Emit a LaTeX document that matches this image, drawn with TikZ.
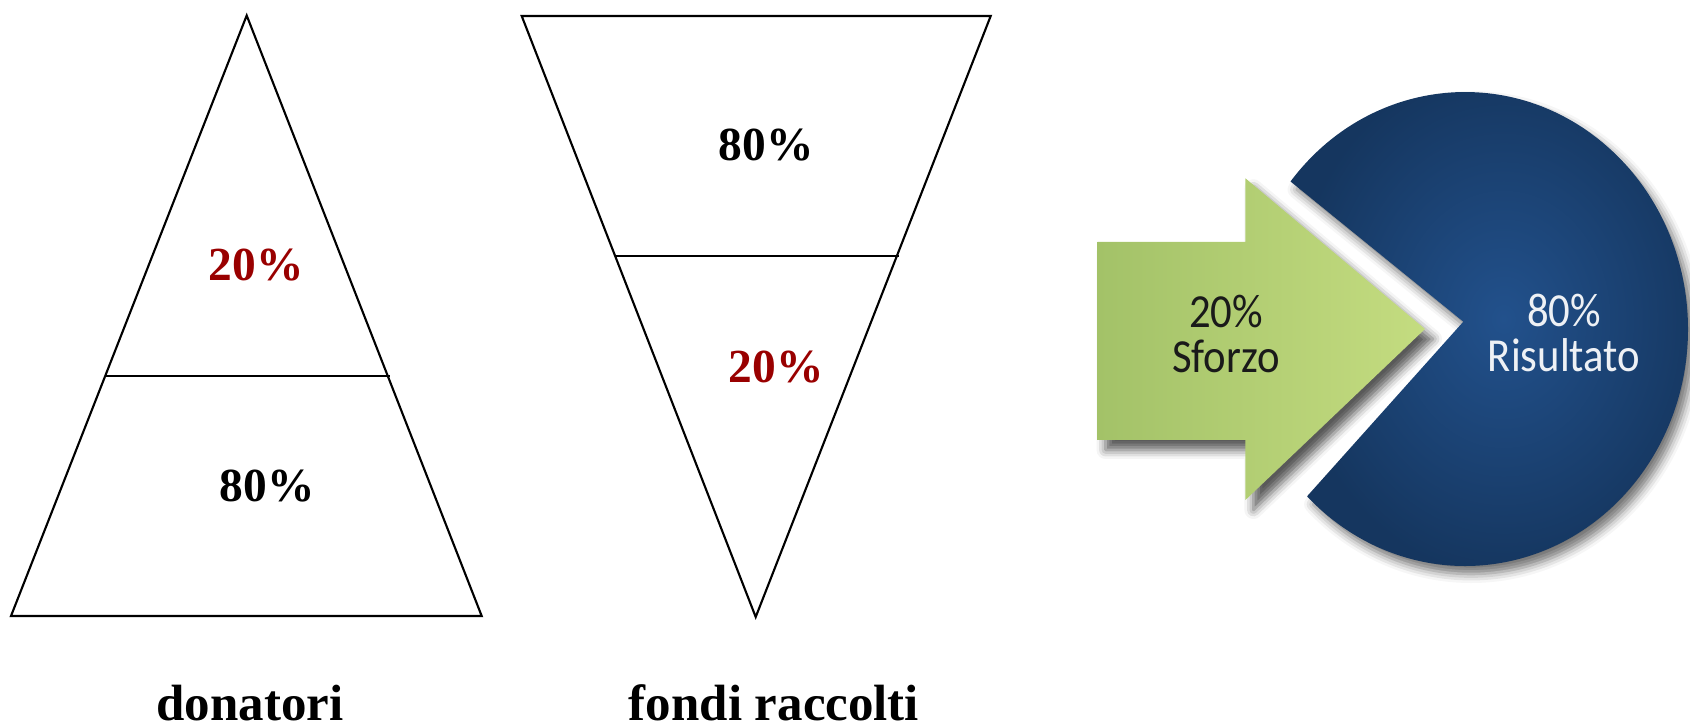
\documentclass[tikz,border=0pt]{standalone}
\usepackage{fontspec}
\setmainfont{Liberation Serif}
\newfontfamily\calib{Carlito}
\usetikzlibrary{shadows.blur}
\definecolor{pctred}{HTML}{990000}
\definecolor{leafA}{HTML}{A3C268}
\definecolor{leafB}{HTML}{C4DC80}
\definecolor{navyIn}{HTML}{22518C}
\definecolor{navyOut}{HTML}{15365F}
\definecolor{pieText}{HTML}{EEF1F5}
\definecolor{armText}{HTML}{1A1A1A}
\begin{document}
\begin{tikzpicture}[x=0.1mm,y=0.1mm,
  tri/.style={draw=black, line width=0.6pt, line join=miter},
  divider/.style={draw=black, line width=0.5pt},
  pct/.style={font=\fontsize{13.5}{16}\selectfont\bfseries},
  caption/.style={font=\fontsize{14.5}{17}\selectfont\bfseries, anchor=base, inner sep=0pt},
  slicetext/.style={font=\calib\fontsize{13.5}{12.8}\selectfont, align=center, xscale=0.9}
]
\useasboundingbox (0,0) rectangle (1690,727);

% donors pyramid
\coordinate (dTop) at (246.7,711.5);
\coordinate (dL) at (11,111);
\coordinate (dR) at (481.7,111);
\coordinate (dDivL) at (105.7,351);
\coordinate (dDivR) at (390,351);
\draw[tri] (dTop) -- (dR) -- (dL) -- cycle;
\draw[divider] (dDivL) -- (dDivR);
\node[pct, text=pctred] (dTopPct) at (256,462) {20\%};
\node[pct] (dLowPct) at (267,241) {80\%};
\node[caption] (dCap) at (250,6) {donatori};

% funds funnel
\coordinate (fTL) at (521.7,711);
\coordinate (fTR) at (990.7,711);
\coordinate (fB) at (755.7,110);
\coordinate (fDivL) at (615,471);
\coordinate (fDivR) at (899,471);
\draw[tri] (fTL) -- (fTR) -- (fB) -- cycle;
\draw[divider] (fDivL) -- (fDivR);
\node[pct] (fTopPct) at (766,582) {80\%};
\node[pct, text=pctred] (fLowPct) at (776,360) {20\%};
\node[caption] (fCap) at (774,6) {fondi raccolti};

% result pie with a notch
\coordinate (notch) at (1463.3,405.3);
\shade[inner color=navyIn, outer color=navyOut,
  blur shadow={shadow xshift=0.6mm, shadow yshift=-0.8mm, shadow blur radius=0.9mm, shadow opacity=55}]
  (notch) -- (1290.5,545.5) arc[start angle=141.5, end angle=-135.1, x radius=22.3mm, y radius=23.7mm] -- cycle;

% effort arrow
\shade[left color=leafA, right color=leafB,
  blur shadow={shadow xshift=0.8mm, shadow yshift=-1mm, shadow blur radius=0.9mm, shadow opacity=65}]
  (1097.5,485) -- (1245.4,485) -- (1245.4,548.7) -- (1425,398)
  -- (1245.4,227) -- (1245.4,287) -- (1097.5,287) -- cycle;

\node[slicetext, text=armText] (effort) at (1226,393) {20\%\\Sforzo};
\node[slicetext, text=pieText] (result) at (1564,394) {80\%\\Risultato};
\end{tikzpicture}
\end{document}
